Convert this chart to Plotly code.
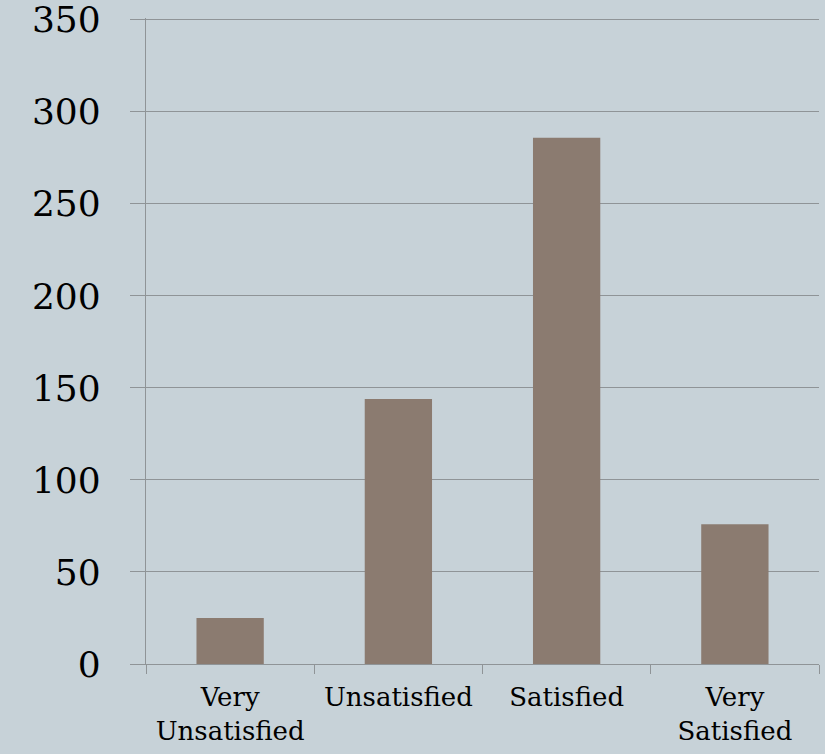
import plotly.graph_objects as go

categories = ["Very<br>Unsatisfied", "Unsatisfied", "Satisfied", "Very<br>Satisfied"]
values = [25, 144, 286, 76]
y_ticks = [0, 50, 100, 150, 200, 250, 300, 350]

bg = "#c7d2d8"
grid = "#8f9497"

fig = go.Figure(go.Bar(
    x=categories, y=values,
    marker=dict(color="#8b7b70", line=dict(width=0)),
    width=0.4,
))

fig.update_layout(
    width=825, height=754,
    paper_bgcolor=bg, plot_bgcolor=bg,
    margin=dict(l=146, r=6, t=18, b=90, autoexpand=False),
    showlegend=False,
    font=dict(family="DejaVu Serif", color="#000000"),
)
fig.update_yaxes(
    range=[0, 351], tickvals=y_ticks,
    showgrid=True, gridcolor=grid, gridwidth=1.3,
    showline=True, linecolor=grid, linewidth=1.3,
    ticks="outside", ticklen=15, tickcolor=grid, tickwidth=1.3,
    tickfont=dict(size=36), ticklabelstandoff=22,
    ticklabeloverflow="allow",
    zeroline=False, automargin=False,
)
fig.update_xaxes(
    showline=True, linecolor=grid, linewidth=1.3,
    ticks="outside", ticklen=9, tickcolor=grid, tickwidth=1.3,
    tickson="boundaries",
    tickfont=dict(size=26),
    ticklabelstandoff=10,
    showgrid=False, automargin=False,
)

fig.write_html(
    "out.html",
    config={"displayModeBar": False},
    post_script="document.body.style.margin='0';document.body.style.background='#c7d2d8';",
)
